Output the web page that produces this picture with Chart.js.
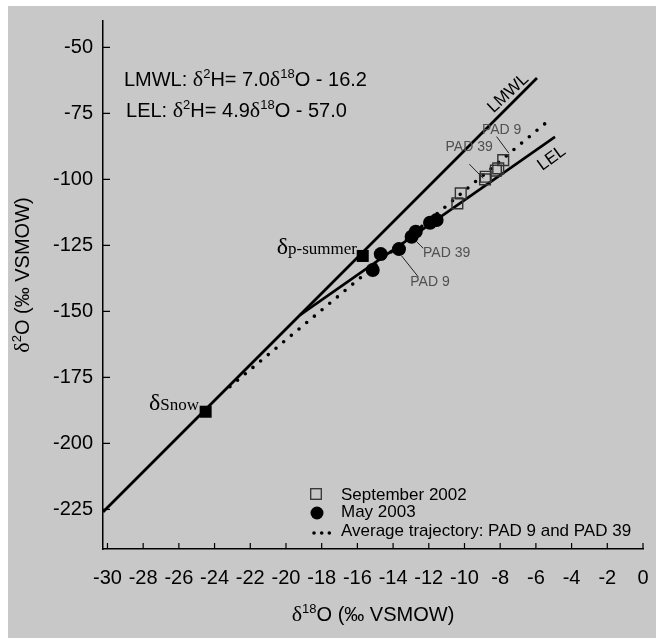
<!DOCTYPE html>
<html>
<head>
<meta charset="utf-8">
<script src="https://cdn.jsdelivr.net/npm/chart.js@4.4.1/dist/chart.umd.min.js"></script>
<style>
  html, body { margin: 0; padding: 0; background: #fff; }
  #box { position: absolute; left: 8px; top: 6px; width: 648px; height: 632px; background: #c8c8c8; }
</style>
</head>
<body>
<div id="box"><canvas id="chart"></canvas></div>
<script>
// tick labels
const xTicks = [-30, -28, -26, -24, -22, -20, -18, -16, -14, -12, -10, -8, -6, -4, -2, 0];
const yTicks = [-50, -75, -100, -125, -150, -175, -200, -225];

// reference lines (end points)
const lmwlX = [-30.25, -5.94];
const lmwlY = [-226, -61.6];
const lelX = [-19.22, -4.93];
const lelY = [-151.4, -83.9];
const trajX = [-23.14, -5.32];
const trajY = [-178.5, -77.9];

// September 2002 (open squares)
const sepX = [-10.40, -10.21, -8.85, -8.81, -8.24, -8.11, -7.83];
const sepY = [-109.1, -105.3, -100.0, -99.0, -96.7, -95.8, -92.7];

// May 2003 (filled circles)
const mayX = [-15.14, -14.69, -13.67, -12.96, -12.73, -11.93, -11.56];
const mayY = [-134.3, -128.3, -126.4, -121.7, -119.8, -116.4, -115.4];

// precipitation end members: snow, summer rain
const precipX = [-24.5, -15.7];
const precipY = [-188, -129];

const SANS = '"Liberation Sans", Arial, sans-serif';
const SERIF = '"Liberation Serif", "Times New Roman", serif';

function pts(xs, ys) {
    return xs.map((x, i) => ({ x, y: ys[i] }));
}

function drawRich(ctx, parts, x, y) {
    let cx = x;
    for (const p of parts) {
        ctx.font = p.f;
        ctx.fillText(p.t, cx, y + (p.dy || 0));
        cx += ctx.measureText(p.t).width;
    }
    return cx - x;
}

function richWidth(ctx, parts) {
    let w = 0;
    for (const p of parts) {
        ctx.font = p.f;
        w += ctx.measureText(p.t).width;
    }
    return w;
}

const txt = `20px ${SANS}`;
const sup = `13px ${SANS}`;
const dlt = `22px ${SERIF}`;

const eqLmwl = [
    { t: 'LMWL: ', f: txt }, { t: 'δ', f: dlt }, { t: '2', f: sup, dy: -8 },
    { t: 'H= 7.0', f: txt }, { t: 'δ', f: dlt }, { t: '18', f: sup, dy: -8 }, { t: 'O - 16.2', f: txt }
];
const eqLel = [
    { t: 'LEL: ', f: txt }, { t: 'δ', f: dlt }, { t: '2', f: sup, dy: -8 },
    { t: 'H= 4.9', f: txt }, { t: 'δ', f: dlt }, { t: '18', f: sup, dy: -8 }, { t: 'O - 57.0', f: txt }
];
const xTitle = [{ t: 'δ', f: dlt }, { t: '18', f: sup, dy: -8 }, { t: 'O (‰ VSMOW)', f: txt }];
const yTitle = [{ t: 'δ', f: dlt }, { t: '2', f: sup, dy: -8 }, { t: 'O (‰ VSMOW)', f: txt }];

// where the annotations sit, in data units
const notes = {
    eq1: { x: -29.08, y: -64.6 },
    eq2: { x: -28.96, y: -76.4 },
    snow: { x: -27.68, y: -187.3 },
    summer: { x: -20.52, y: -128.3 },
    lmwlLabel: { x: -7.55, y: -67.4, angle: -43 },
    lelLabel: { x: -5.11, y: -92, angle: -36 },
    pads: [
        { text: 'PAD 9', x: -7.92, y: -81.3, from: [-8.2, -83.8], to: [-7.51, -90.1] },
        { text: 'PAD 39', x: -9.74, y: -87.8, from: [-9.73, -94.2], to: [-8.95, -99.6] },
        { text: 'PAD 39', x: -11.0, y: -127.8, from: [-12.68, -123.6], to: [-12.31, -126.1] },
        { text: 'PAD 9', x: -11.93, y: -139.1, from: [-13.52, -129], to: [-12.59, -136.9] }
    ]
};

const extras = {
    id: 'extras',
    afterDraw(chart) {
        const { ctx, chartArea: area, scales: { x, y } } = chart;
        const X = v => x.getPixelForValue(v);
        const Y = v => y.getPixelForValue(v);
        ctx.save();
        ctx.fillStyle = '#000';
        ctx.strokeStyle = '#000';

        // inward tick marks
        ctx.lineWidth = 1.2;
        ctx.beginPath();
        for (const v of xTicks) {
            ctx.moveTo(X(v), area.bottom);
            ctx.lineTo(X(v), area.bottom - 6);
        }
        for (const v of yTicks) {
            ctx.moveTo(area.left, Y(v));
            ctx.lineTo(area.left + 7, Y(v));
        }
        ctx.stroke();

        // equations
        ctx.textBaseline = 'alphabetic';
        ctx.textAlign = 'left';
        drawRich(ctx, eqLmwl, X(notes.eq1.x), Y(notes.eq1.y));
        drawRich(ctx, eqLel, X(notes.eq2.x), Y(notes.eq2.y));

        // end member labels
        drawRich(ctx, [{ t: 'δ', f: `24px ${SERIF}` }, { t: 'Snow', f: `17px ${SERIF}` }], X(notes.snow.x), Y(notes.snow.y));
        drawRich(ctx, [{ t: 'δ', f: `24px ${SERIF}` }, { t: 'p-summer', f: `17px ${SERIF}` }], X(notes.summer.x), Y(notes.summer.y));

        // line labels
        ctx.textAlign = 'center';
        ctx.textBaseline = 'middle';
        for (const [k, label] of [['lmwlLabel', 'LMWL'], ['lelLabel', 'LEL']]) {
            const n = notes[k];
            ctx.save();
            ctx.translate(X(n.x), Y(n.y));
            ctx.rotate(n.angle * Math.PI / 180);
            ctx.font = `17px ${SANS}`;
            ctx.fillText(label, 0, 0);
            ctx.restore();
        }

        // PAD labels with leaders
        ctx.font = `14px ${SANS}`;
        ctx.fillStyle = '#505050';
        ctx.strokeStyle = '#222';
        ctx.lineWidth = 1;
        for (const p of notes.pads) {
            ctx.fillText(p.text, X(p.x), Y(p.y));
            ctx.beginPath();
            ctx.moveTo(X(p.from[0]), Y(p.from[1]));
            ctx.lineTo(X(p.to[0]), Y(p.to[1]));
            ctx.stroke();
        }

        // axis titles
        ctx.fillStyle = '#000';
        ctx.textAlign = 'left';
        ctx.textBaseline = 'alphabetic';
        const wx = richWidth(ctx, xTitle);
        drawRich(ctx, xTitle, (area.left + area.right) / 2 - wx / 2, area.bottom + 72);
        const wy = richWidth(ctx, yTitle);
        ctx.save();
        ctx.translate(14, (area.top + area.bottom) / 2 - 10);
        ctx.rotate(-Math.PI / 2);
        drawRich(ctx, yTitle, -wy / 2, 7);
        ctx.restore();

        // legend
        const lx = area.left + 213;
        const rows = [area.bottom - 54, area.bottom - 37, area.bottom - 18];
        ctx.strokeStyle = '#333';
        ctx.lineWidth = 1.3;
        ctx.strokeRect(lx - 5.3, rows[0] - 6.3, 10.6, 10.6);
        ctx.beginPath();
        ctx.arc(lx + 1, rows[1] + 1, 6.5, 0, Math.PI * 2);
        ctx.fill();
        for (const dx of [-2, 5.7, 13.3]) {
            ctx.beginPath();
            ctx.arc(lx + dx, rows[2] + 2, 1.8, 0, Math.PI * 2);
            ctx.fill();
        }
        ctx.font = `17px ${SANS}`;
        ctx.textBaseline = 'middle';
        ctx.fillText('September 2002', lx + 25, rows[0]);
        ctx.fillText('May 2003', lx + 25, rows[1]);
        ctx.fillText('Average trajectory: PAD 9 and PAD 39', lx + 25, rows[2]);
        ctx.restore();
    }
};

new Chart(document.getElementById('chart'), {
    type: 'scatter',
    data: {
        datasets: [
            {
                label: 'May 2003', data: pts(mayX, mayY), order: 1,
                pointStyle: 'circle', pointRadius: 7, backgroundColor: '#000', borderColor: '#000', borderWidth: 0
            },
            {
                label: 'Precipitation', data: pts(precipX, precipY), order: 2,
                pointStyle: 'rect', pointRadius: 8.5, backgroundColor: '#000', borderColor: '#000', borderWidth: 0
            },
            {
                label: 'September 2002', data: pts(sepX, sepY), order: 3,
                pointStyle: 'rect', pointRadius: 7.6, backgroundColor: 'rgba(0,0,0,0)', borderColor: '#333', borderWidth: 1.4
            },
            {
                label: 'Average trajectory', data: pts(trajX, trajY), order: 4, showLine: true,
                pointRadius: 0, borderColor: '#000', borderWidth: 3.6, borderDash: [0, 10], borderCapStyle: 'round'
            },
            {
                label: 'LMWL', data: pts(lmwlX, lmwlY), order: 5, showLine: true,
                pointRadius: 0, borderColor: '#000', borderWidth: 2.8
            },
            {
                label: 'LEL', data: pts(lelX, lelY), order: 6, showLine: true,
                pointRadius: 0, borderColor: '#000', borderWidth: 2.6
            }
        ]
    },
    options: {
        responsive: true,
        maintainAspectRatio: false,
        animation: false,
        layout: { padding: { top: 15, right: 13, left: 0, bottom: 0 } },
        plugins: {
            legend: { display: false },
            tooltip: { enabled: false }
        },
        scales: {
            x: {
                type: 'linear', min: -30.25, max: 0,
                afterBuildTicks: (s) => { s.ticks = xTicks.map(v => ({ value: v })); },
                afterFit: (s) => { s.height = 89; s.paddingLeft = 0; s.paddingRight = 0; },
                grid: { display: true, drawOnChartArea: false, drawTicks: false },
                border: { display: true, color: '#000', width: 1.5 },
                ticks: {
                    autoSkip: false, maxRotation: 0, padding: 17, color: '#000',
                    font: { family: SANS, size: 20 },
                    callback: (v) => String(v)
                }
            },
            y: {
                type: 'linear', min: -240, max: -40,
                afterBuildTicks: (s) => { s.ticks = yTicks.map(v => ({ value: v })); },
                afterFit: (s) => { s.width = 95; s.paddingTop = 0; s.paddingBottom = 0; },
                grid: { display: true, drawOnChartArea: false, drawTicks: false },
                border: { display: true, color: '#000', width: 1.5 },
                ticks: {
                    autoSkip: false, padding: 10, color: '#000',
                    font: { family: SANS, size: 20 },
                    callback: (v) => String(v)
                }
            }
        }
    },
    plugins: [extras]
});
</script>
</body>
</html>
